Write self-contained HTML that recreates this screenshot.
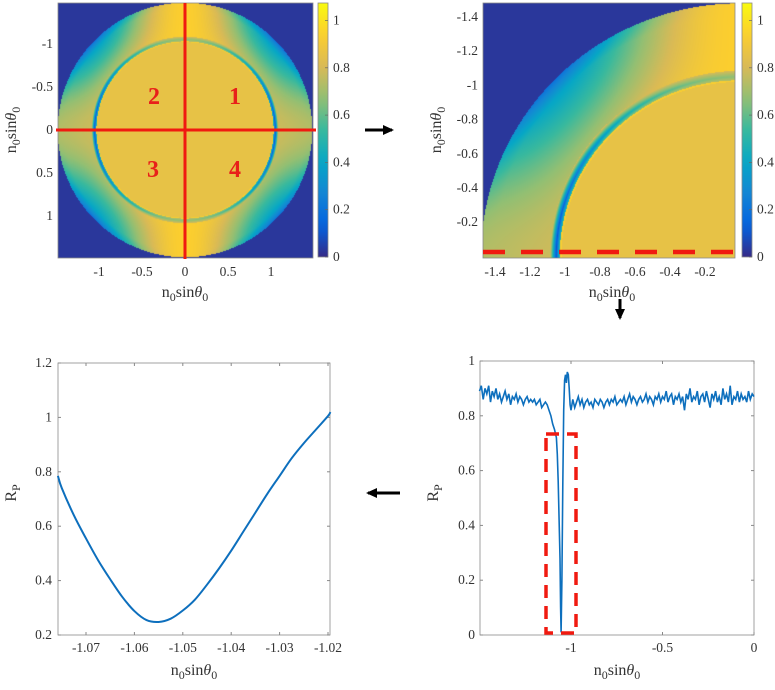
<!DOCTYPE html>
<html><head><meta charset="utf-8">
<style>
html,body{margin:0;padding:0;background:#fff;}
#wrap{position:relative;width:775px;height:690px;overflow:hidden;font-family:"Liberation Serif",serif;}
canvas{position:absolute;}
svg{position:absolute;left:0;top:0;font-size:13.5px;}
text{font-family:"Liberation Serif",serif;fill:#333;}
</style></head>
<body>
<div id="wrap">
<canvas id="map1" width="255" height="255" style="left:58px;top:3px"></canvas>
<canvas id="map2" width="252" height="255" style="left:483px;top:3px"></canvas>
<svg id="svg" width="775" height="690"></svg>
</div>
<script>
// ---- data arrays ----
const zoomX = [-1.0758,-1.075,-1.0725,-1.07,-1.0675,-1.065,-1.0625,-1.06,-1.0575,-1.055,-1.0525,-1.05,-1.0475,-1.045,-1.0425,-1.04,-1.0375,-1.035,-1.0325,-1.03,-1.0275,-1.025,-1.0225,-1.02,-1.0195];
const zoomY = [0.785,0.74,0.64,0.555,0.475,0.405,0.34,0.288,0.255,0.248,0.26,0.29,0.33,0.385,0.445,0.51,0.58,0.65,0.72,0.785,0.85,0.905,0.955,1.005,1.02];
const lineStartX = -1.5;
const lineLeftY = [0.89,0.91,0.86,0.90,0.88,0.91,0.85,0.89,0.87,0.90,0.86,0.88,0.85,0.87,0.89,0.86,0.88,0.84,0.87,0.86,0.88,0.85,0.87,0.86,0.84,0.86,0.87,0.85,0.86,0.85,0.86,0.84,0.85,0.86,0.83,0.84,0.85,0.84,0.82];
const dipX = [-1.11,-1.10,-1.09,-1.08,-1.075,-1.07,-1.065,-1.06,-1.057,-1.054,-1.05,-1.045,-1.04,-1.035,-1.03,-1.025,-1.02,-1.015,-1.01,-1.005,-1.0];
const dipY = [0.80,0.77,0.75,0.72,0.66,0.56,0.42,0.28,0.10,0.01,0.20,0.55,0.82,0.93,0.95,0.92,0.96,0.95,0.90,0.84,0.82];
const lineRightY = [0.86,0.83,0.85,0.87,0.84,0.86,0.83,0.85,0.86,0.84,0.85,0.83,0.86,0.85,0.84,0.86,0.85,0.83,0.85,0.86,0.84,0.86,0.85,0.87,0.84,0.85,0.86,0.85,0.87,0.84,0.86,0.88,0.85,0.87,0.86,0.84,0.86,0.87,0.85,0.86,0.88,0.85,0.87,0.86,0.84,0.87,0.86,0.88,0.85,0.87,0.86,0.89,0.85,0.87,0.88,0.84,0.87,0.86,0.88,0.85,0.87,0.82,0.88,0.86,0.90,0.85,0.87,0.86,0.89,0.84,0.87,0.88,0.85,0.89,0.86,0.83,0.88,0.86,0.89,0.85,0.87,0.84,0.90,0.86,0.88,0.85,0.91,0.84,0.87,0.86,0.89,0.85,0.88,0.86,0.87,0.85,0.89,0.86,0.88,0.87];
const tl_ticks = [-1,-0.5,0,0.5,1];
const tl_tickLabels = ["-1","-0.5","0","0.5","1"];
const cb_ticks = [0,0.2,0.4,0.6,0.8,1];
const cb_tickLabels = ["0","0.2","0.4","0.6","0.8","1"];
const tr_ticks = [-1.4,-1.2,-1,-0.8,-0.6,-0.4,-0.2];
const tr_tickLabels = ["-1.4","-1.2","-1","-0.8","-0.6","-0.4","-0.2"];
const bl_xticks = [-1.07,-1.06,-1.05,-1.04,-1.03,-1.02];
const bl_xtickLabels = ["-1.07","-1.06","-1.05","-1.04","-1.03","-1.02"];
const bl_yticks = [0.2,0.4,0.6,0.8,1,1.2];
const bl_ytickLabels = ["0.2","0.4","0.6","0.8","1","1.2"];
const br_xticks = [-1,-0.5,0];
const br_xtickLabels = ["-1","-0.5","0"];
const br_yticks = [0,0.2,0.4,0.6,0.8,1];
const br_ytickLabels = ["0","0.2","0.4","0.6","0.8","1"];

// ---- parula colormap ----
const stops=[[0,[53,42,135]],[0.125,[3,99,225]],[0.25,[20,133,212]],[0.375,[6,167,198]],[0.5,[56,185,158]],[0.625,[146,191,115]],[0.75,[217,186,86]],[0.875,[252,206,46]],[1,[249,251,14]]];
function parula(v){v=Math.max(0,Math.min(1,v));for(let i=1;i<stops.length;i++){if(v<=stops[i][0]){const a=stops[i-1],b=stops[i];const t=(v-a[0])/(b[0]-a[0]);return [0,1,2].map(k=>Math.round(a[1][k]+(b[1][k]-a[1][k])*t));}}return stops[stops.length-1][1];}
const CMAX=1.074;
function field(x,y){
  const r=Math.hypot(x,y);
  if(r>1.48) return 0.03;
  const c=Math.abs(x)/(r||1), s=Math.abs(y)/(r||1);
  const s2=s*s, d=Math.pow(2*c*s,2);
  if(r<1.02) return 0.86;
  if(r<1.03) return 0.93;
  if(r<1.085){ const depth=0.7*(1-s2*0.8); const m=1-Math.abs(r-1.05)/0.035; return 0.80-depth*Math.max(0,m);}
  const t=(r-1.085)/0.395;
  let v=(0.78+0.16*s2) - d*(0.14+0.40*t) - (1-d)*(1-s2)*0.05*t;
  if(t>0.8) v-= (t-0.8)*0.6*d;
  return v;
}
function drawMap(id,w,h,toData){
  const cv=document.getElementById(id),ctx=cv.getContext('2d');const img=ctx.createImageData(w,h);
  for(let j=0;j<h;j++)for(let i=0;i<w;i++){const [x,y]=toData(i+0.5,j+0.5);const col=parula(field(x,y)/CMAX);const k=(j*w+i)*4;img.data[k]=col[0];img.data[k+1]=col[1];img.data[k+2]=col[2];img.data[k+3]=255;}
  ctx.putImageData(img,0,0);
}
drawMap('map1',255,255,(i,j)=>[(i+58-185)/86,(j+3-130)/86]);
drawMap('map2',252,255,(i,j)=>[(i+483-705)/175-0.2,(j+3-17)/171-1.4]);

// ---- svg helpers ----
const NS='http://www.w3.org/2000/svg';const svg=document.getElementById('svg');
function el(tag,attrs,parent){const e=document.createElementNS(NS,tag);for(const k in attrs)e.setAttribute(k,attrs[k]);(parent||svg).appendChild(e);return e;}
function txt(x,y,str,anchor,parent){const t=el('text',{x:x,y:y,'text-anchor':anchor||'middle'},parent);t.textContent=str;return t;}
function axLabel(cx,cy,rot,name,sym){
  const g=el('g',{transform:`translate(${cx},${cy}) rotate(${rot})`});
  
  
  const t=el('text',{x:0,y:0,'text-anchor':'middle',style:'font-size:16px'},g);
  if(sym==='n'){t.innerHTML='n<tspan style="font-size:12px" dy="4">0</tspan><tspan dy="-4">sin</tspan><tspan font-style="italic">θ</tspan><tspan style="font-size:12px" dy="4">0</tspan>';}
  else {t.innerHTML='R<tspan style="font-size:12px" dy="4">P</tspan>';}
}
function box(x0,y0,x1,y1,name){const r=el('rect',{x:x0,y:y0,width:x1-x0,height:y1-y0,fill:'none',stroke:'#8a8a8a','stroke-width':0.8});}

// ---- top-left ----
box(58,3,313,258,'top-left-axes');
const tlx=v=>185+v*86, tly=v=>130+v*86;
tl_ticks.forEach((v,i)=>{const t=txt(tlx(v),276,tl_tickLabels[i]);
 const u=txt(53,tly(v)+4,tl_tickLabels[i],'end');});
axLabel(185,297,0,'tl-x-axis-title','n');axLabel(16,130,-90,'tl-y-axis-title','n');
let l=el('line',{x1:185,y1:3,x2:185,y2:259,stroke:'#f01a10','stroke-width':3});
l=el('line',{x1:56,y1:130,x2:316,y2:130,stroke:'#f01a10','stroke-width':3});
[["2",154,104],["1",235,104],["3",153,177],["4",235,177]].forEach(q=>{const t=el('text',{x:q[1],y:q[2],'text-anchor':'middle','font-weight':'bold',style:'fill:#e8201a;font-size:24px'});t.textContent=q[0];});
// colorbars
const defs=el('defs',{});const grad=el('linearGradient',{id:'pg',x1:0,y1:1,x2:0,y2:0},defs);
for(let i=0;i<=20;i++){const v=i/20;const c=parula(v);el('stop',{offset:v,'stop-color':`rgb(${c})`},grad);}
function colorbar(x,name){const r=el('rect',{x:x,y:3,width:10,height:254,fill:'url(#pg)',stroke:'#8a8a8a','stroke-width':0.8});
 cb_ticks.forEach((v,i)=>{const y=257-v*236.5;el('line',{x1:x+10,y1:y,x2:x+7,y2:y,stroke:'#666','stroke-width':0.7});const t=txt(x+15,y+4,cb_tickLabels[i],'start');});}
colorbar(318,'tl-colorbar');colorbar(742,'tr-colorbar');

// ---- top-right ----
box(483,3,735,258,'top-right-axes');
const trx=v=>705+(v+0.2)*175, tr_y=v=>17+(v+1.4)*171;
tr_ticks.forEach((v,i)=>{const t=txt(trx(v),276,tr_tickLabels[i]);
 const u=txt(478,tr_y(v)+4,tr_tickLabels[i],'end');});
axLabel(612,297,0,'tr-x-axis-title','n');axLabel(441,130,-90,'tr-y-axis-title','n');
l=el('line',{x1:483,y1:252,x2:735,y2:252,stroke:'#f01a10','stroke-width':4.5,'stroke-dasharray':'22 16'});

// ---- bottom-right ----
box(480,361,754,635,'bottom-right-axes');
const brx=v=>754+v*183, bry=v=>635-v*274;
br_xticks.forEach((v,i)=>{el('line',{x1:brx(v),y1:635,x2:brx(v),y2:632,stroke:'#888'});el('line',{x1:brx(v),y1:361,x2:brx(v),y2:364,stroke:'#888'});const t=txt(brx(v),652,br_xtickLabels[i]);});
br_yticks.forEach((v,i)=>{el('line',{x1:480,y1:bry(v),x2:483,y2:bry(v),stroke:'#888'});el('line',{x1:754,y1:bry(v),x2:751,y2:bry(v),stroke:'#888'});const t=txt(475,bry(v)+4,br_ytickLabels[i],'end');});
axLabel(617,675,0,'br-x-axis-title','n');axLabel(438,493,-90,'br-y-axis-title','R');
let pts=[];lineLeftY.forEach((v,i)=>pts.push([lineStartX+i*0.01,v]));dipX.forEach((x,i)=>pts.push([x,dipY[i]]));lineRightY.forEach((v,i)=>pts.push([-0.99+i*0.01,v]));
l=el('polyline',{points:pts.map(p=>brx(p[0]).toFixed(1)+','+bry(p[1]).toFixed(1)).join(' '),fill:'none',stroke:'#0d6fbd','stroke-width':1.6});
l=el('rect',{x:546,y:434,width:30,height:199,fill:'none',stroke:'#f01a10','stroke-width':3.5,'stroke-dasharray':'13 8'});

// ---- bottom-left ----
box(58,363,330,635,'bottom-left-axes');
const blx=v=>86+(v+1.07)*4840, bly=v=>635-(v-0.2)*272;
bl_xticks.forEach((v,i)=>{el('line',{x1:blx(v),y1:635,x2:blx(v),y2:632,stroke:'#888'});el('line',{x1:blx(v),y1:363,x2:blx(v),y2:366,stroke:'#888'});const t=txt(blx(v),652,bl_xtickLabels[i]);});
bl_yticks.forEach((v,i)=>{el('line',{x1:58,y1:bly(v),x2:61,y2:bly(v),stroke:'#888'});el('line',{x1:330,y1:bly(v),x2:327,y2:bly(v),stroke:'#888'});const t=txt(52,bly(v)+4,bl_ytickLabels[i],'end');});
axLabel(194,675,0,'bl-x-axis-title','n');axLabel(16,493,-90,'bl-y-axis-title','R');
const P=zoomX.map((x,i)=>[blx(x),bly(zoomY[i])]);
let d='M'+P[0][0]+','+P[0][1];
for(let i=0;i<P.length-1;i++){const p0=P[Math.max(0,i-1)],p1=P[i],p2=P[i+1],p3=P[Math.min(P.length-1,i+2)];
 d+=` C${p1[0]+(p2[0]-p0[0])/6},${p1[1]+(p2[1]-p0[1])/6} ${p2[0]-(p3[0]-p1[0])/6},${p2[1]-(p3[1]-p1[1])/6} ${p2[0]},${p2[1]}`;}
l=el('path',{d:d,fill:'none',stroke:'#0d6fbd','stroke-width':2});

// ---- arrows ----
function arrow(x1,y1,x2,y2,name){const g=el('g',{});
 el('line',{x1:x1,y1:y1,x2:x2,y2:y2,stroke:'#000','stroke-width':3},g);
 const a=Math.atan2(y2-y1,x2-x1),L=9,W=5;const bx=x2-L*Math.cos(a),by=y2-L*Math.sin(a);
 el('polygon',{points:`${x2+2*Math.cos(a)},${y2+2*Math.sin(a)} ${bx-W*Math.sin(a)},${by+W*Math.cos(a)} ${bx+W*Math.sin(a)},${by-W*Math.cos(a)}`,fill:'#000'},g);}
arrow(365,130,392,130,'arrow-right');
arrow(620,299,620,318,'arrow-down');
arrow(400,493,368,493,'arrow-left');
</script>
</body></html>
